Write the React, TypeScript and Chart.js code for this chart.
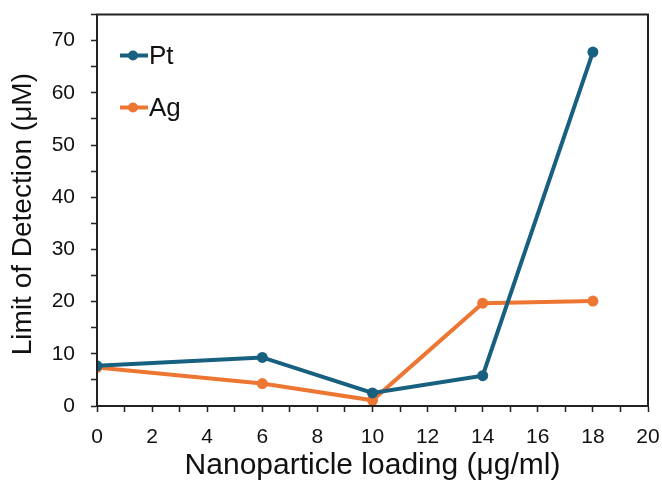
import React, { useEffect, useRef } from "react";
import { Chart, registerables } from "chart.js";

Chart.register(...registerables);

const xValues = [0, 6, 10, 14, 18];
const ptValues = [7.7, 9.3, 2.5, 5.8, 67.8];
const agValues = [7.4, 4.3, 1.1, 19.7, 20.1];
const seriesNames = ["Pt", "Ag"];
const seriesColors = ["#17607f", "#ed7732"];

const FONT = "'Liberation Sans', Arial, sans-serif";

const frameAndLegend = {
  id: "frameAndLegend",
  afterDatasetsDraw(chart: any) {
    const { ctx, chartArea } = chart;
    ctx.save();
    ctx.strokeStyle = "#222";
    ctx.lineWidth = 2;
    ctx.strokeRect(chartArea.left, chartArea.top, chartArea.right - chartArea.left, chartArea.bottom - chartArea.top);
    // legend
    const x0 = chartArea.left + 23;
    const ys = [chartArea.top + 41, chartArea.top + 93];
    chart.data.datasets.forEach((ds: any, i: number) => {
      const y = ys[i];
      ctx.strokeStyle = ds.borderColor;
      ctx.lineWidth = 4;
      ctx.beginPath();
      ctx.moveTo(x0, y);
      ctx.lineTo(x0 + 28, y);
      ctx.stroke();
      ctx.fillStyle = ds.borderColor;
      ctx.beginPath();
      ctx.arc(x0 + 13, y, 5, 0, Math.PI * 2);
      ctx.fill();
      ctx.fillStyle = "#111";
      ctx.font = `26px ${FONT}`;
      ctx.textBaseline = "middle";
      ctx.textAlign = "left";
      ctx.fillText(ds.label, x0 + 29, y + 1);
    });
    ctx.restore();
  },
};

export default function App() {
  const ref = useRef<HTMLCanvasElement>(null);
  useEffect(() => {
    if (!ref.current) return;
    const mk = (vals: number[]) => xValues.map((x, i) => ({ x, y: vals[i] }));
    const chart = new Chart(ref.current, {
      type: "line",
      data: {
        datasets: [
          { label: seriesNames[0], data: mk(ptValues), borderColor: seriesColors[0], backgroundColor: seriesColors[0], borderWidth: 4, pointRadius: 5.5, pointBorderWidth: 0, tension: 0 },
          { label: seriesNames[1], data: mk(agValues), borderColor: seriesColors[1], backgroundColor: seriesColors[1], borderWidth: 4, pointRadius: 5.5, pointBorderWidth: 0, tension: 0 },
        ],
      },
      options: {
        animation: false,
        responsive: false,
        layout: { padding: { top: 14.5, right: 14, left: 0, bottom: 0 } },
        plugins: { legend: { display: false }, tooltip: { enabled: false } },
        scales: {
          x: {
            type: "linear",
            min: 0,
            max: 20,
            afterFit: (s: any) => { s.height = 74; s.paddingLeft = 0; s.paddingRight = 0; },
            ticks: {
              stepSize: 1,
              autoSkip: false,
              maxRotation: 0,
              padding: 13,
              color: "#111",
              font: { family: FONT, size: 21 },
              callback: (v: any) => (Number(v) % 2 === 0 ? String(v) : ""),
            },
            grid: { drawOnChartArea: false, drawTicks: true, tickLength: 6, tickColor: "#222", tickWidth: 1.5 },
            border: { display: true, color: "#222", width: 2 },
            title: { display: true, text: "Nanoparticle loading (μg/ml)", color: "#111", font: { family: FONT, size: 30, lineHeight: 0.95 }, padding: { top: 0, bottom: 0 } },
          },
          y: {
            min: 0,
            max: 75,
            afterFit: (s: any) => { s.width = 97; s.paddingTop = 0; s.paddingBottom = 0; },
            ticks: {
              stepSize: 5,
              autoSkip: false,
              padding: 16,
              color: "#111",
              font: { family: FONT, size: 21 },
              callback: (v: any) => (Number(v) % 10 === 0 ? String(v) : ""),
            },
            grid: { drawOnChartArea: false, drawTicks: true, tickLength: 6, tickColor: "#222", tickWidth: 1.5 },
            border: { display: true, color: "#222", width: 2 },
            title: { display: true, text: "Limit of Detection (μM) ", color: "#111", font: { family: FONT, size: 28 }, padding: { top: 6, bottom: 0 } },
          },
        },
      },
      plugins: [frameAndLegend],
    } as any);
    return () => chart.destroy();
  }, []);
  return (
    <div style={{ position: "absolute", left: 0, top: 0, width: 662, height: 480, background: "#fff" }}>
      <canvas ref={ref} width={662} height={480} />
    </div>
  );
}
